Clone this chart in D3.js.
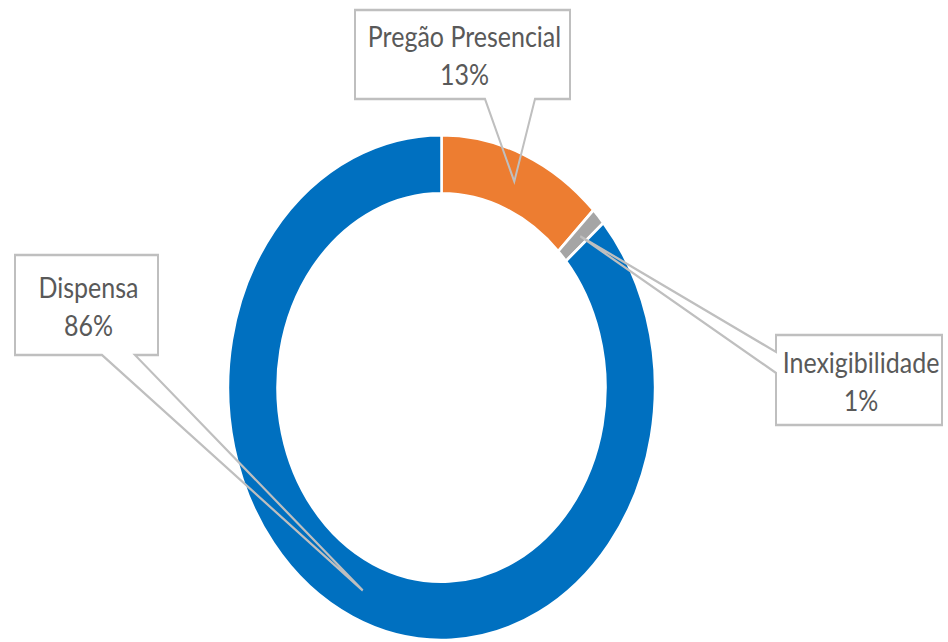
<!DOCTYPE html>
<html>
<head>
<meta charset="utf-8">
<script src="https://cdn.jsdelivr.net/npm/d3@7"></script>
<style>
  html, body { margin: 0; padding: 0; background: #fff; }
  svg { display: block; }
</style>
</head>
<body>
<svg id="chart" width="948" height="642"></svg>
<script>
// slice data, clockwise from 12 o'clock
var categories = ["Pregão Presencial", "Inexigibilidade", "Dispensa"];
var values = [12.6, 1.1, 86.3];
var pctLabels = ["13%", "1%", "86%"];
var colors = ["#ED7D31", "#A5A5A5", "#0070C0"];

// callout boxes (unstretched coords): x0,x1,y0,y1, pointer side and base
var boxes = [
  {x0: 355, x1: 570, y0: 8.5, y1: 83.7, side: "bottom", p0: 485, p1: 535},
  {x0: 776, x1: 942, y0: 283.2, y1: 359.3, side: "left", p0: 297.5, p1: 315.3},
  {x0: 15, x1: 158, y0: 215.6, y1: 300.1, side: "bottom", p0: 102, p1: 135}
];

var sy = 1.183; // the picture is stretched vertically
var cx = 441.5, cy = 327.6;
var outerR = 213.5, innerR = 164;

var svg = d3.select("#chart");
var g = svg.append("g").attr("transform", "scale(1," + sy + ")");

var pie = d3.pie().sort(null).value(function(d) { return d; });
var arcs = pie(values);
var arc = d3.arc().innerRadius(innerR).outerRadius(outerR);

var donut = g.append("g").attr("transform", "translate(" + cx + "," + cy + ")");
donut.selectAll("path")
  .data(arcs)
  .enter().append("path")
  .attr("d", arc)
  .attr("fill", function(d, i) { return colors[i]; })
  .attr("stroke", "#fff")
  .attr("stroke-width", 2.5);

// callouts
var labels = g.append("g");
arcs.forEach(function(a, i) {
  var c = arc.centroid(a);
  var tx = cx + c[0], ty = cy + c[1];
  var b = boxes[i];
  var p = d3.path();
  if (b.side === "bottom") {
    p.moveTo(b.x0, b.y0);
    p.lineTo(b.x1, b.y0);
    p.lineTo(b.x1, b.y1);
    p.lineTo(b.p1, b.y1);
    p.lineTo(tx, ty);
    p.lineTo(b.p0, b.y1);
    p.lineTo(b.x0, b.y1);
    p.closePath();
  } else {
    p.moveTo(b.x0, b.y0);
    p.lineTo(b.x1, b.y0);
    p.lineTo(b.x1, b.y1);
    p.lineTo(b.x0, b.y1);
    p.lineTo(b.x0, b.p1);
    p.lineTo(tx, ty);
    p.lineTo(b.x0, b.p0);
    p.closePath();
  }
  labels.append("path")
    .attr("d", p.toString())
    .attr("fill", "none")
    .attr("stroke", "#BFBFBF")
    .attr("stroke-width", 2)
    .attr("stroke-linejoin", "miter");

  var mx = (b.x0 + b.x1) / 2, my = (b.y0 + b.y1) / 2;
  var t = labels.append("text")
    .attr("text-anchor", "middle")
    .attr("font-family", "Lato, 'Open Sans', sans-serif")
    .attr("font-size", 25)
    .attr("fill", "#595959");
  t.append("tspan").attr("x", mx + 2).attr("y", my - 6).text(categories[i]);
  t.append("tspan").attr("x", mx + 2).attr("y", my + 26).text(pctLabels[i]);
});
</script>
</body>
</html>
